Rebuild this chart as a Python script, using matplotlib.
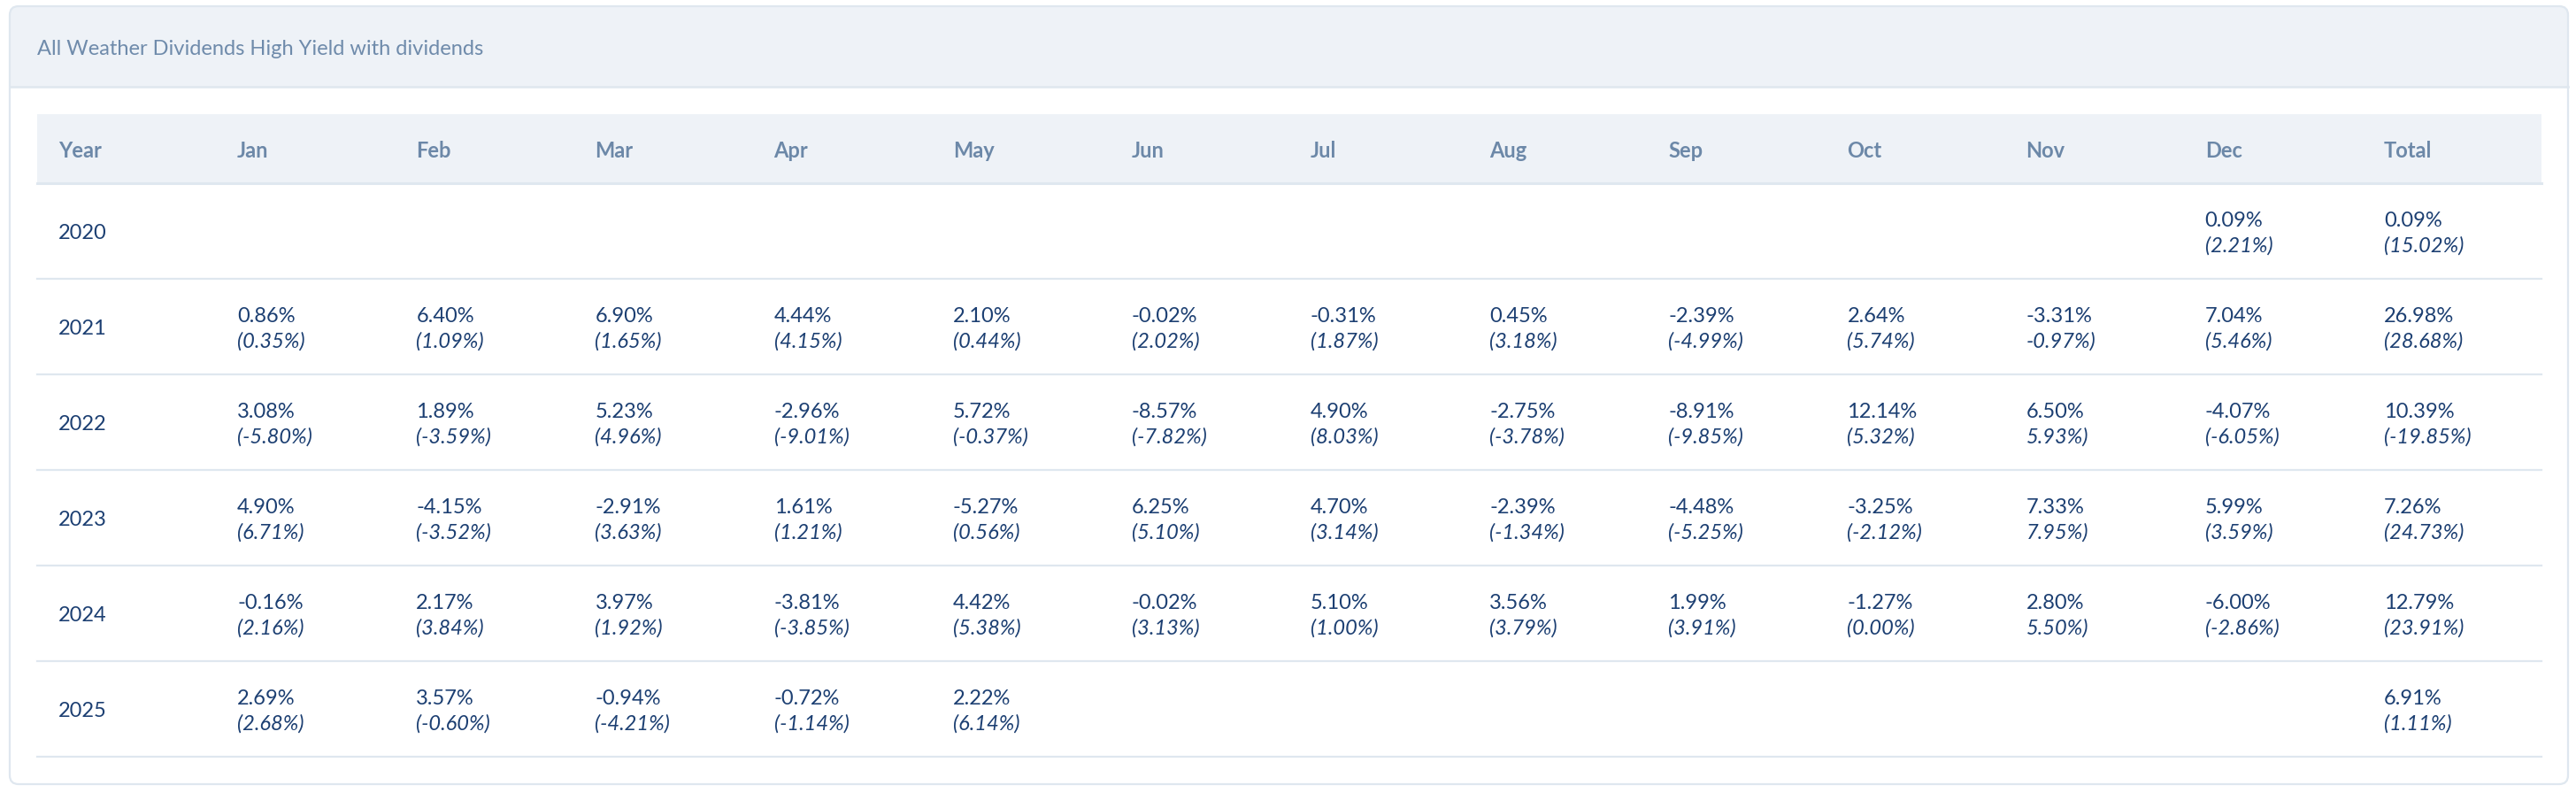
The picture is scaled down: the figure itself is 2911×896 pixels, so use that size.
import matplotlib
matplotlib.use("Agg")
import matplotlib.pyplot as plt
from matplotlib.patches import FancyBboxPatch, Rectangle

# datos de la tabla
titulo = "All Weather Dividends High Yield with dividends"
columnas = ["Year", "Jan", "Feb", "Mar", "Apr", "May", "Jun", "Jul",
            "Aug", "Sep", "Oct", "Nov", "Dec", "Total"]
anios = ["2020", "2021", "2022", "2023", "2024", "2025"]

# rendimiento mensual (None = sin dato)
rend_2020 = [None, None, None, None, None, None, None, None, None, None, None, 0.09]
rend_2021 = [0.86, 6.40, 6.90, 4.44, 2.10, -0.02, -0.31, 0.45, -2.39, 2.64, -3.31, 7.04]
rend_2022 = [3.08, 1.89, 5.23, -2.96, 5.72, -8.57, 4.90, -2.75, -8.91, 12.14, 6.50, -4.07]
rend_2023 = [4.90, -4.15, -2.91, 1.61, -5.27, 6.25, 4.70, -2.39, -4.48, -3.25, 7.33, 5.99]
rend_2024 = [-0.16, 2.17, 3.97, -3.81, 4.42, -0.02, 5.10, 3.56, 1.99, -1.27, 2.80, -6.00]
rend_2025 = [2.69, 3.57, -0.94, -0.72, 2.22, None, None, None, None, None, None, None]

# valor de referencia (entre parentesis)
ref_2020 = [None, None, None, None, None, None, None, None, None, None, None, 2.21]
ref_2021 = [0.35, 1.09, 1.65, 4.15, 0.44, 2.02, 1.87, 3.18, -4.99, 5.74, -0.97, 5.46]
ref_2022 = [-5.80, -3.59, 4.96, -9.01, -0.37, -7.82, 8.03, -3.78, -9.85, 5.32, 5.93, -6.05]
ref_2023 = [6.71, -3.52, 3.63, 1.21, 0.56, 5.10, 3.14, -1.34, -5.25, -2.12, 7.95, 3.59]
ref_2024 = [2.16, 3.84, 1.92, -3.85, 5.38, 3.13, 1.00, 3.79, 3.91, 0.00, 5.50, -2.86]
ref_2025 = [2.68, -0.60, -4.21, -1.14, 6.14, None, None, None, None, None, None, None]

total_rend = [0.09, 26.98, 10.39, 7.26, 12.79, 6.91]
total_ref = [15.02, 28.68, -19.85, 24.73, 23.91, 1.11]

rendimientos = [rend_2020, rend_2021, rend_2022, rend_2023, rend_2024, rend_2025]
referencias = [ref_2020, ref_2021, ref_2022, ref_2023, ref_2024, ref_2025]

# estilos
ANCHO, ALTO = 2911, 896
FONDO_BANDA = "#eef2f7"
LINEA = "#dfe7ef"
COLOR_TITULO = "#6f8bab"
COLOR_CABECERA = "#6c88a8"
COLOR_DATO = "#1c3f72"
TAM = 23.6 * 72 / 100  # ~24 px en puntos

plt.rcParams["font.family"] = ["Lato", "DejaVu Sans"]

fig = plt.figure(figsize=(ANCHO / 100, ALTO / 100), dpi=100)
ax = fig.add_axes([0, 0, 1, 1])
ax.set_xlim(0, ANCHO)
ax.set_ylim(ALTO, 0)
ax.axis("off")

# tarjeta con esquinas redondeadas
card_x0, card_y0, card_x1, card_y1 = 11, 7, 2902, 886
tarjeta = FancyBboxPatch((card_x0, card_y0), card_x1 - card_x0, card_y1 - card_y0,
                         boxstyle="round,pad=0,rounding_size=10",
                         facecolor="white", edgecolor="none", zorder=1)
ax.add_patch(tarjeta)
banda = Rectangle((card_x0, card_y0), card_x1 - card_x0, 98 - card_y0,
                  facecolor=FONDO_BANDA, edgecolor="none", zorder=2)
banda.set_clip_path(tarjeta)
ax.add_patch(banda)
ax.plot([card_x0, card_x1], [98, 98], color=LINEA, lw=1.8, zorder=3)
borde = FancyBboxPatch((card_x0, card_y0), card_x1 - card_x0, card_y1 - card_y0,
                       boxstyle="round,pad=0,rounding_size=10",
                       facecolor="none", edgecolor=LINEA, lw=1.6, zorder=4)
ax.add_patch(borde)

ax.text(42, 56, titulo, fontsize=TAM, color=COLOR_TITULO, va="center", ha="left", zorder=5)

# tabla
tab_x0, tab_x1 = 42, 2872
cab_y0, cab_y1 = 129, 207
alto_fila = 108
ancho_col = (tab_x1 - tab_x0) / len(columnas)
relleno = 24
ajuste = 3  # pequeño desplazamiento vertical del texto

ax.add_patch(Rectangle((tab_x0, cab_y0), tab_x1 - tab_x0, cab_y1 - cab_y0,
                       facecolor=FONDO_BANDA, edgecolor="none", zorder=2))
ax.plot([tab_x0, tab_x1], [cab_y1, cab_y1], color=LINEA, lw=2.2, zorder=3)

for j, nombre in enumerate(columnas):
    ax.text(tab_x0 + j * ancho_col + relleno, (cab_y0 + cab_y1) / 2 + 2, nombre,
            fontsize=TAM, fontweight="bold", color=COLOR_CABECERA,
            va="center", ha="left", zorder=5)


def dibujar_celda(x, yc, valor, ref, sin_parentesis=False):
    if valor is None:
        return
    ax.text(x, yc - 14, f"{valor:.2f}%", fontsize=TAM, color=COLOR_DATO,
            va="center", ha="left", zorder=5)
    abre = "" if sin_parentesis else "("
    ax.text(x, yc + 14, f"{abre}{ref:.2f}%)", fontsize=TAM, color=COLOR_DATO,
            style="italic", va="center", ha="left", zorder=5)


for i, anio in enumerate(anios):
    yc = cab_y1 + alto_fila * (i + 0.5) + ajuste
    y_linea = cab_y1 + alto_fila * (i + 1)
    ax.plot([tab_x0, tab_x1], [y_linea, y_linea], color=LINEA, lw=1.6, zorder=3)
    ax.text(tab_x0 + relleno, yc, anio, fontsize=TAM, color=COLOR_DATO,
            va="center", ha="left", zorder=5)
    for m in range(12):
        x = tab_x0 + (m + 1) * ancho_col + relleno
        # la columna Nov aparece sin el parentesis de apertura
        dibujar_celda(x, yc, rendimientos[i][m], referencias[i][m],
                      sin_parentesis=(columnas[m + 1] == "Nov"))
    dibujar_celda(tab_x0 + 13 * ancho_col + relleno, yc, total_rend[i], total_ref[i])

fig.savefig("out.png", dpi=100, facecolor="white")
